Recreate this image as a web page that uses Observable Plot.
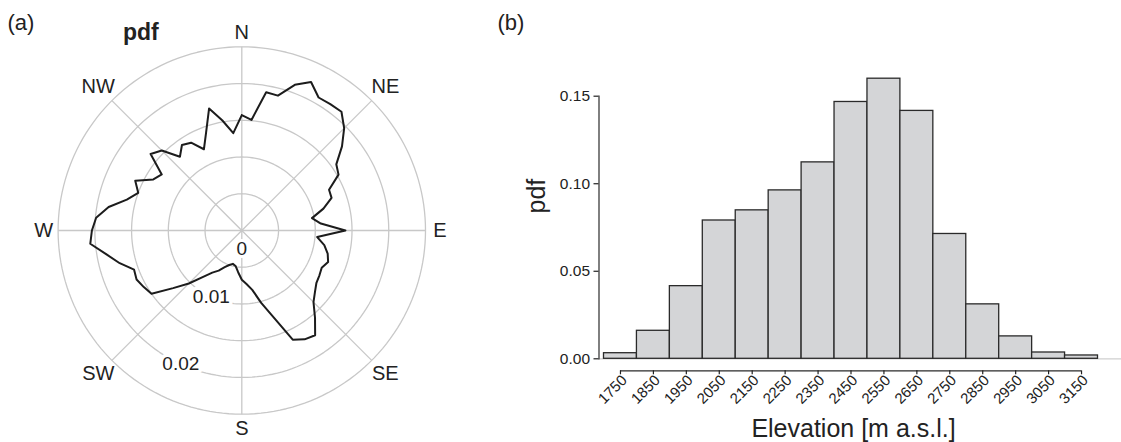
<!DOCTYPE html>
<html><head><meta charset="utf-8">
<script src="https://cdn.jsdelivr.net/npm/d3@7"></script>
<script src="https://cdn.jsdelivr.net/npm/@observablehq/plot@0.6"></script>
<style>
body{margin:0;background:#fff;}
#wrap{position:relative;width:1121px;height:442px;overflow:hidden;}
#wrap svg{position:absolute;top:0;}
</style></head><body><div id="wrap"></div>
<script>
// ---- (a) polar pdf of aspect ----
const aspectAngles = [0,5,10,15,20,25,30,35,40,45,50,55,60,65,70,75,80,85,
  90,95,100,105,110,115,120,125,130,135,140,145,150,155,160,165,170,175,
  180,185,190,195,200,205,210,215,220,225,230,235,240,245,250,255,260,265,
  270,275,280,285,290,295,300,305,310,315,320,325,330,335,340,345,350,355];
const aspectPdf = [0.0157,0.0151,0.0191,0.0190,0.0211,0.0223,0.0209,0.0210,0.0211,0.0197,0.0178,0.0157,0.0152,0.0131,0.0130,0.0115,0.0097,0.0108,
  0.0141,0.0103,0.0114,0.0121,0.0125,0.0120,0.0122,0.0124,0.0130,0.0138,0.0155,0.0174,0.0171,0.0164,0.0125,0.0102,0.0082,0.0073,
  0.0067,0.0057,0.0049,0.0047,0.0050,0.0055,0.0063,0.0070,0.0083,0.0102,0.0122,0.0150,0.0154,0.0158,0.0156,0.0172,0.0187,0.0207,
  0.0204,0.0199,0.0184,0.0162,0.0150,0.0160,0.0139,0.0133,0.0162,0.0154,0.0131,0.0142,0.0138,0.0122,0.0142,0.0172,0.0152,0.0133];
const compassLabels = ["N","NE","E","SE","S","SW","W","NW"];
const compassAngles = [0,45,90,135,180,225,270,315];
const radialTicks = [0.005,0.01,0.015,0.02,0.025];
const radialLabels = [0.01,0.02];
const radialLabelAngle = 204.5;

// ---- (b) histogram of elevation ----
const elevMid = [1750,1850,1950,2050,2150,2250,2350,2450,2550,2650,2750,2850,2950,3050,3150];
const elevPdf = [0.0032,0.0160,0.0415,0.0790,0.0848,0.0962,0.1122,0.1467,0.1600,0.1416,0.0713,0.0311,0.0128,0.0036,0.0019];
const binWidth = 100;
const yTicks = [0,0.05,0.10,0.15];

const FONT = '"Liberation Sans", Arial, Helvetica, sans-serif';
const INK = "#222";
const GRID = "#c8c8c8";

const rad = a => a * Math.PI / 180;
const px = (r, a) => r * Math.sin(rad(a));
const py = (r, a) => r * Math.cos(rad(a));
const rMax = radialTicks[radialTicks.length - 1];

const gridPts = radialTicks.flatMap(v => d3.range(0, 361, 2).map(a => ({v, a})));
const curve = aspectAngles.map((a, i) => ({a, r: aspectPdf[i]}));
curve.push(curve[0]);
const compass = compassAngles.map((a, i) => ({a, label: compassLabels[i], r: a % 90 === 0 ? 0.02695 : 0.02763}));

const polar = Plot.plot({
  width: 480, height: 442, margin: 0,
  style: {fontFamily: FONT, color: INK, background: "transparent"},
  x: {domain: [-rMax, rMax], range: [57.6, 425], axis: null},
  y: {domain: [-rMax, rMax], range: [413.7, 46.3], axis: null},
  marks: [
    Plot.line(gridPts, {x: d => px(d.v, d.a), y: d => py(d.v, d.a), z: "v", stroke: GRID, strokeWidth: 1.3}),
    Plot.link(compassAngles, {x1: 0, y1: 0, x2: a => px(rMax, a), y2: a => py(rMax, a), stroke: GRID, strokeWidth: 1.3}),
    Plot.line(curve, {x: d => px(d.r, d.a), y: d => py(d.r, d.a), stroke: "#1c1c1c", strokeWidth: 2, strokeLinejoin: "round"}),
    Plot.text(radialLabels, {x: v => px(v, radialLabelAngle), y: v => py(v, radialLabelAngle), text: d => d3.format(".2f")(d),
      fontSize: 19, fill: INK, stroke: "white", strokeWidth: 7, paintOrder: "stroke"}),
    Plot.text([0], {x: 0, y: 0, dy: 18, text: d => String(d), fontSize: 19, fill: INK, stroke: "white", strokeWidth: 6, paintOrder: "stroke"}),
    Plot.text(compass, {x: d => px(d.r, d.a), y: d => py(d.r, d.a), text: "label", fontSize: 20, fill: INK}),
    Plot.text(["(a)"], {frameAnchor: "top-left", dx: 7, dy: 29.5, textAnchor: "start", lineAnchor: "bottom", fontSize: 22, fill: INK}),
    Plot.text(["pdf"], {frameAnchor: "top-left", dx: 122.5, dy: 39.5, textAnchor: "start", lineAnchor: "bottom", fontSize: 23, fontWeight: "bold", fill: INK})
  ]
});
polar.style.left = "0px";

const bars = elevMid.map((m, i) => ({m, v: elevPdf[i]}));
const hist = Plot.plot({
  width: 641, height: 442,
  marginLeft: 118.5, marginTop: 95.7, marginBottom: 83.7, marginRight: 0,
  style: {fontFamily: FONT, color: INK, background: "transparent"},
  x: {domain: [elevMid[0] - binWidth / 2, elevMid[elevMid.length - 1] + binWidth / 2], range: [123.5, 617.5]},
  y: {domain: [yTicks[0], yTicks[yTicks.length - 1]]},
  marks: [
    Plot.ruleY([0], {stroke: "#cfcfcf", strokeWidth: 1.2}),
    Plot.rect(bars, {x1: d => d.m - binWidth / 2, x2: d => d.m + binWidth / 2, y1: 0, y2: "v", fill: "#d4d5d7", stroke: "#2a2a2a", strokeWidth: 1.3, inset: 0}),
    Plot.frame({anchor: "left", stroke: "#2a2a2a", strokeWidth: 1.2}),
    Plot.axisY(yTicks, {anchor: "left", tickFormat: d3.format(".2f"), tickSize: 5, tickPadding: 4, fontSize: 15.5, label: null, strokeWidth: 1.2}),
    Plot.ruleY([0], {x1: elevMid[0], x2: elevMid[elevMid.length - 1], dy: 12, stroke: "#2a2a2a", strokeWidth: 1.2}),
    Plot.axisX(elevMid, {anchor: "bottom", dy: 12, tickSize: 4, tickFormat: () => "", label: null, strokeWidth: 1.2}),
    Plot.axisX(elevMid, {anchor: "bottom", dy: 12, dx: 4, tickSize: 0, tickPadding: 7, tickRotate: -45, fontSize: 15, label: null, tickFormat: d => String(d)}),
    Plot.text(["pdf"], {frameAnchor: "left", dx: -62, dy: -14, rotate: -90, fontSize: 25, fill: INK}),
    Plot.text(["Elevation [m a.s.l.]"], {frameAnchor: "bottom", dx: -6.75, dy: 78, lineAnchor: "bottom", fontSize: 25, fill: INK}),
    Plot.text(["(b)"], {frameAnchor: "top-left", dx: -101.5, dy: -66.2, textAnchor: "start", lineAnchor: "bottom", fontSize: 22, fill: INK})
  ]
});
hist.style.left = "480px";

const wrap = document.getElementById("wrap");
wrap.appendChild(polar);
wrap.appendChild(hist);
</script>
</body></html>
